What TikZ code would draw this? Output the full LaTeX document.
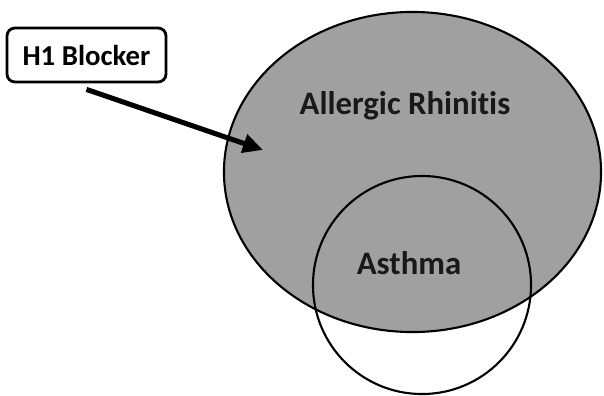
\documentclass[tikz,border=0pt]{standalone}
\usepackage{fontspec}
\setsansfont{Carlito}[Ligatures=NoCommon]
\usetikzlibrary{shapes.geometric,arrows.meta}

\definecolor{vennfill}{RGB}{160,160,160}

\begin{document}
\begin{tikzpicture}[
    x=0.025cm, y=-0.025cm,
    font=\sffamily\bfseries,
    % sets and labels
    rhinitis/.style={ellipse, draw=black, line width=1.5pt, fill=vennfill, minimum width=9.425cm, minimum height=8cm, inner sep=0pt},
    asthma/.style={circle, draw=black, line width=1.5pt, minimum size=5.45cm, inner sep=0pt},
    setlabel/.style={font=\fontsize{23.3}{28}\sffamily\bfseries, text=black!90},
    drug/.style={draw=black, line width=2pt, rounded corners=2mm, fill=white, minimum width=3.975cm, minimum height=1.35cm, font=\fontsize{20.5}{24}\sffamily\bfseries},
    hit/.style={-{Triangle[length=5mm, width=4.6mm]}, line width=3.6pt, draw=black}
  ]

  % bounding box locked to the 604 x 395 frame
  \useasboundingbox (0, 0) rectangle (604, 395);

  % ---------------------------------------------------------
  % VENN SETS
  % ---------------------------------------------------------
  \node[rhinitis] (ar) at (412.5, 172) {};
  \node[asthma] (as) at (422, 285) {};

  \node[setlabel] (arlabel) at (405, 106) {Allergic Rhinitis};
  \node[setlabel] (aslabel) at (409, 263) {Asthma};

  % ---------------------------------------------------------
  % DRUG BOX AND ARROW
  % ---------------------------------------------------------
  \node[drug] (h1) at (86.5, 55) {H1 Blocker};
  \coordinate (target) at (263, 150);

  \draw[hit] ([yshift=-1.5mm]h1.south) -- (target);

\end{tikzpicture}
\end{document}
